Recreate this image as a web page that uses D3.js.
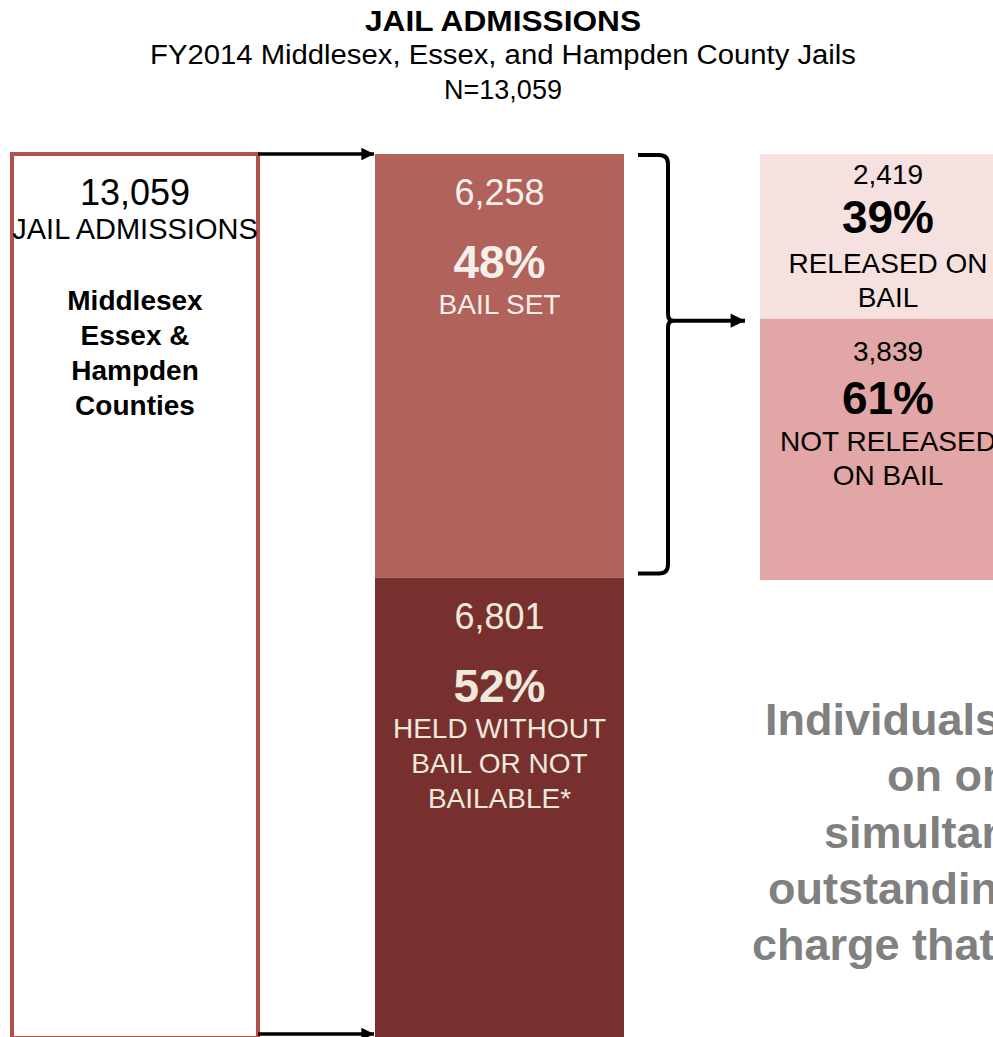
<!DOCTYPE html>
<html>
<head>
<meta charset="utf-8">
<script src="https://cdn.jsdelivr.net/npm/d3@7"></script>
<style>
  html, body { margin: 0; padding: 0; background: #fff; overflow: hidden; }
  svg { display: block; font-family: "Liberation Sans", Arial, sans-serif; }
</style>
</head>
<body>
<div id="chart"></div>
<script>
// Jail admissions flow, FY2014
const titleLines = ["JAIL ADMISSIONS", "FY2014 Middlesex, Essex, and Hampden County Jails", "N=13,059"];
const totalAdmissions = 13059;
const totalLabel = "JAIL ADMISSIONS";
const countyLines = ["Middlesex", "Essex &", "Hampden", "Counties"];

// first split: every admission
const bailCategories = ["BAIL SET", "HELD WITHOUT BAIL OR NOT BAILABLE*"];
const bailLabelLines = [["BAIL SET"], ["HELD WITHOUT", "BAIL OR NOT", "BAILABLE*"]];
const bailValues = [6258, 6801];

// second split: admissions with bail set
const outcomeCategories = ["RELEASED ON BAIL", "NOT RELEASED ON BAIL"];
const outcomeLabelLines = [["RELEASED ON", "BAIL"], ["NOT RELEASED", "ON BAIL"]];
const outcomeValues = [2419, 3839];

const noteLines = ["Individuals held", "on one or more", "simultaneous", "outstanding", "charge that"];

const W = 993, H = 1037;
const svg = d3.select("#chart").append("svg").attr("width", W).attr("height", H);

const fmt = d3.format(",");
const pct = d3.format(".0%");

// header
svg.append("text").attr("x", 503).attr("y", 31).attr("text-anchor", "middle")
  .attr("font-family", "'Liberation Sans Narrow', 'Liberation Sans', Arial, sans-serif")
  .attr("font-weight", "bold").attr("font-size", 29)
  .attr("textLength", 276).attr("lengthAdjust", "spacingAndGlyphs")
  .text(titleLines[0]);
svg.append("text").attr("x", 503).attr("y", 64).attr("text-anchor", "middle")
  .attr("font-size", 27).attr("textLength", 706).attr("lengthAdjust", "spacingAndGlyphs")
  .text(titleLines[1]);
svg.append("text").attr("x", 503).attr("y", 99).attr("text-anchor", "middle")
  .attr("font-size", 27).text(titleLines[2]);

// vertical scales: full admissions column and bail-set column
const y = d3.scaleLinear().domain([0, totalAdmissions]).range([154, 1038]);
const yR = d3.scaleLinear().domain([0, d3.sum(outcomeValues)]).range([154, 580]);

// column positions
const x = d3.scaleOrdinal().domain(["total", "bail", "outcome"]).range([12, 375, 760]);
const colW = d3.scaleOrdinal().domain(["total", "bail", "outcome"]).range([246, 249, 256]);

// total admissions column (outlined)
svg.append("rect")
  .attr("x", x("total")).attr("y", y(0))
  .attr("width", colW("total")).attr("height", y(totalAdmissions) - y(0))
  .attr("fill", "#fff").attr("stroke", "#b3524b").attr("stroke-width", 4);

const cxT = x("total") + colW("total") / 2;
svg.append("text").attr("x", cxT).attr("y", 205).attr("text-anchor", "middle")
  .attr("font-size", 36).attr("fill", "#000").text(fmt(totalAdmissions));
svg.append("text").attr("x", cxT).attr("y", 239).attr("text-anchor", "middle")
  .attr("font-size", 29).attr("fill", "#000").text(totalLabel);
svg.selectAll("text.county").data(countyLines).enter().append("text")
  .attr("class", "county")
  .attr("x", cxT).attr("y", (d, i) => 310 + i * 35)
  .attr("text-anchor", "middle").attr("font-size", 28).attr("font-weight", "bold")
  .attr("fill", "#000").text(d => d);

// bail split column
const bailColors = ["#b1625b", "#78302f"];
const bailText = ["#f7efeb", "#efe9dd"];
let acc = 0;
const bailSegs = bailValues.map((v, i) => {
  const s = { i, v, y0: acc, y1: acc + v, lines: bailLabelLines[i] };
  acc += v; return s;
});
const cxB = x("bail") + colW("bail") / 2;
const bg = svg.selectAll("g.bail").data(bailSegs).enter().append("g").attr("class", "bail");
bg.append("rect")
  .attr("x", x("bail")).attr("y", d => y(d.y0))
  .attr("width", colW("bail")).attr("height", d => y(d.y1) - y(d.y0))
  .attr("fill", d => bailColors[d.i]);
bg.append("text").attr("x", cxB).attr("y", d => y(d.y0) + 51)
  .attr("text-anchor", "middle").attr("font-size", 36)
  .attr("fill", d => bailText[d.i]).text(d => fmt(d.v));
bg.append("text").attr("x", cxB).attr("y", d => y(d.y0) + 124)
  .attr("text-anchor", "middle").attr("font-size", 46).attr("font-weight", "bold")
  .attr("fill", d => bailText[d.i]).text(d => pct(d.v / totalAdmissions));
bg.each(function (d) {
  d3.select(this).selectAll("text.lbl").data(d.lines).enter().append("text")
    .attr("class", "lbl").attr("x", cxB)
    .attr("y", (t, j) => y(d.y0) + 160 + j * 35)
    .attr("text-anchor", "middle").attr("font-size", 28)
    .attr("fill", bailText[d.i]).text(t => t);
});

// outcome column for bail-set admissions
const outColors = ["#f5e1e0", "#e1a6a5"];
const outOffsets = [
  { num: 30, pct: 79, lbl: 119 },
  { num: 42, pct: 95, lbl: 132 }
];
acc = 0;
const outSegs = outcomeValues.map((v, i) => {
  const s = { i, v, y0: acc, y1: acc + v, lines: outcomeLabelLines[i] };
  acc += v; return s;
});
const outTotal = d3.sum(outcomeValues);
const cxO = 888;
const og = svg.selectAll("g.out").data(outSegs).enter().append("g").attr("class", "out");
og.append("rect")
  .attr("x", x("outcome")).attr("y", d => yR(d.y0))
  .attr("width", colW("outcome")).attr("height", d => yR(d.y1) - yR(d.y0))
  .attr("fill", d => outColors[d.i]);
og.append("text").attr("x", cxO).attr("y", d => yR(d.y0) + outOffsets[d.i].num)
  .attr("text-anchor", "middle").attr("font-size", 28).attr("fill", "#000")
  .text(d => fmt(d.v));
og.append("text").attr("x", cxO).attr("y", d => yR(d.y0) + outOffsets[d.i].pct)
  .attr("text-anchor", "middle").attr("font-size", 46).attr("font-weight", "bold")
  .attr("fill", "#000").text(d => pct(d.v / outTotal));
og.each(function (d) {
  d3.select(this).selectAll("text.lbl").data(d.lines).enter().append("text")
    .attr("class", "lbl").attr("x", cxO)
    .attr("y", (t, j) => yR(d.y0) + outOffsets[d.i].lbl + j * 34)
    .attr("text-anchor", "middle").attr("font-size", 28)
    .attr("fill", "#000").text(t => t);
});

// arrowheads
const defs = svg.append("defs");
defs.append("marker").attr("id", "head")
  .attr("viewBox", "0 0 10 10").attr("refX", 10).attr("refY", 5)
  .attr("markerWidth", 4.2).attr("markerHeight", 3.6).attr("markerUnits", "strokeWidth")
  .attr("orient", "auto")
  .append("path").attr("d", "M0,0 L10,5 L0,10 Z").attr("fill", "#000");

// connectors from total column to bail column
[y(0), y(totalAdmissions) - 4].forEach(yy => {
  svg.append("line")
    .attr("x1", x("total") + colW("total")).attr("x2", x("bail") - 1)
    .attr("y1", yy).attr("y2", yy)
    .attr("stroke", "#000").attr("stroke-width", 3.5)
    .attr("marker-end", "url(#head)");
});

// brace around the bail-set segment
const bTop = y(0) + 1, bBot = y(bailValues[0]) - 4, bMid = yR(outcomeValues[0]) + 2;
const bx0 = 638, bx1 = 668, r = 9;
svg.append("path")
  .attr("d", `M${bx0},${bTop} L${bx1 - r},${bTop} Q${bx1},${bTop} ${bx1},${bTop + r}
              L${bx1},${bMid - 7} Q${bx1},${bMid} ${bx1 + 5},${bMid}
              Q${bx1},${bMid} ${bx1},${bMid + 7}
              L${bx1},${bBot - r} Q${bx1},${bBot} ${bx1 - r},${bBot} L${bx0},${bBot}`)
  .attr("fill", "none").attr("stroke", "#000").attr("stroke-width", 4)
  .attr("stroke-linejoin", "round");
svg.append("line")
  .attr("x1", bx1 + 3).attr("x2", 745).attr("y1", bMid).attr("y2", bMid)
  .attr("stroke", "#000").attr("stroke-width", 4)
  .attr("marker-end", "url(#head)");

// side note
const noteX = [765, 887, 824, 768, 752];
svg.selectAll("text.note").data(noteLines).enter().append("text")
  .attr("class", "note")
  .attr("x", (d, i) => noteX[i]).attr("y", (d, i) => 735 + i * 56.3)
  .attr("font-size", 45).attr("font-weight", "bold").attr("fill", "#808080")
  .text(d => d);
</script>
</body>
</html>
